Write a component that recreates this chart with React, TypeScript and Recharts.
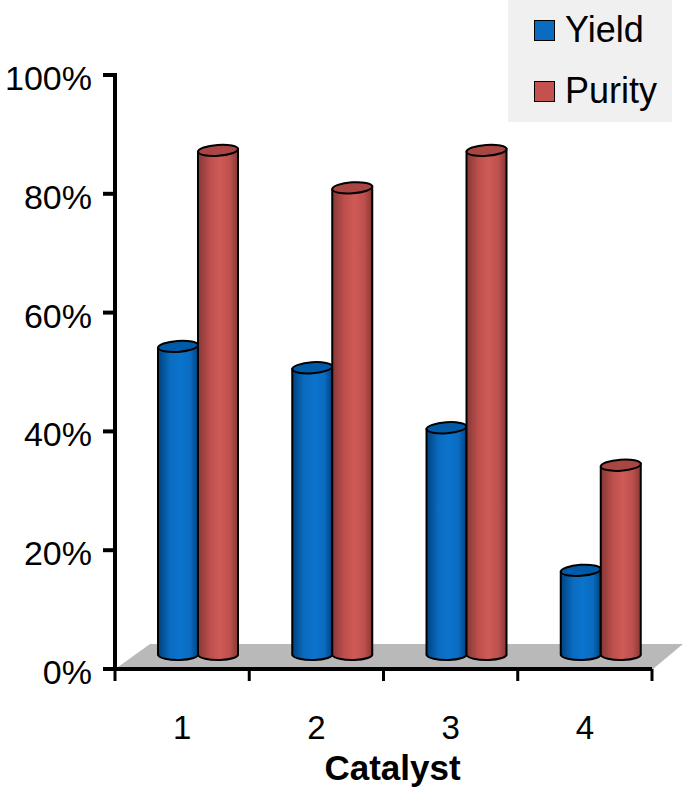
import { BarChart, Bar, XAxis, YAxis, Legend, usePlotArea } from "recharts";

const categories = ["1", "2", "3", "4"];
const yieldValues = [51.7, 48.1, 38, 14];
const purityValues = [84.7, 78.4, 84.7, 31.7];
const yTicks = [0, 20, 40, 60, 80, 100];

const seriesNames = ["Yield", "Purity"];
const swatches: Record<string, string> = { Yield: "#0a6cc0", Purity: "#c5514f" };
const lids: Record<string, string> = { Yield: "#005aa6", Purity: "#a94644" };

const data = categories.map((c, i) => ({
  name: c,
  Yield: yieldValues[i],
  Purity: purityValues[i],
}));

const FONT = "'Liberation Sans', Arial, sans-serif";
const BAND = 134.25;
const SHIFT_X = 16; // fake 3D: columns stand back on the floor
const SHIFT_Y = 14;

function Floor() {
  const plot = usePlotArea();
  if (!plot) return null;
  const left = plot.x;
  const right = plot.x + plot.width;
  const bottom = plot.y + plot.height;
  const d = `M${left + 3} ${bottom - 2} L${left + 35} ${bottom - 25} L${right + 31} ${bottom - 25} L${right + 1} ${bottom} L${left + 3} ${bottom} Z`;
  return <path d={d} fill="#b9b9b9" />;
}

function Cylinder(props: any) {
  const { x, y, width, height, dataKey } = props;
  const left = x + SHIFT_X;
  const right = left + width;
  const top = y - SHIFT_Y;
  const base = y + height - SHIFT_Y;
  const rx = width / 2;
  const cx = left + rx;
  const ry = 5.5;
  const body = `M${left} ${top} L${left} ${base} A${rx} ${ry} 0 0 0 ${right} ${base - 1} L${right} ${top - 3} Z`;
  return (
    <g>
      <path d={body} fill={`url(#grad${dataKey})`} stroke="#000" strokeWidth={2} />
      <ellipse
        cx={cx}
        cy={top - 1.5}
        rx={rx}
        ry={ry}
        fill={lids[dataKey]}
        stroke="#000"
        strokeWidth={2}
        transform={`rotate(-4 ${cx} ${top - 1.5})`}
      />
    </g>
  );
}

function CategoryTick(props: any) {
  const { x, y, payload, index } = props;
  const half = BAND / 2;
  return (
    <g>
      <line x1={x - half} x2={x - half} y1={y - 8} y2={y + 4} stroke="#000" strokeWidth={3} />
      {index === categories.length - 1 && (
        <line x1={x + half} x2={x + half} y1={y - 8} y2={y + 4} stroke="#000" strokeWidth={3} />
      )}
      <text x={x} y={y + 62} textAnchor="middle" fontSize={33} fontFamily={FONT} fill="#000">
        {payload.value}
      </text>
    </g>
  );
}

function ValueTick(props: any) {
  const { x, y, payload } = props;
  return (
    <g>
      <line x1={103} x2={117} y1={y} y2={y} stroke="#000" strokeWidth={4} />
      <text x={x - 6} y={y + 15} textAnchor="end" fontSize={34} fontFamily={FONT} fill="#000">
        {payload.value}%
      </text>
    </g>
  );
}

function LegendBox() {
  return (
    <div style={{ width: 164, height: 122, background: "#f0f0f0", position: "relative", fontFamily: FONT }}>
      {seriesNames.map((name, i) => (
        <div key={name}>
          <div
            style={{
              position: "absolute",
              left: 26,
              top: 20 + i * 61,
              width: 19,
              height: 19,
              background: swatches[name],
              border: "1.5px solid #000",
            }}
          />
          <div
            style={{
              position: "absolute",
              left: 57,
              top: 11 + i * 61,
              fontSize: 36,
              lineHeight: "38px",
              color: "#000",
            }}
          >
            {name}
          </div>
        </div>
      ))}
    </div>
  );
}

export default function App() {
  return (
    <div style={{ position: "absolute", left: 0, top: 0, width: 685, height: 789 }}>
      <BarChart
        width={685}
        height={789}
        data={data}
        margin={{ top: 75, right: 33, bottom: 0, left: 0 }}
        barCategoryGap={27}
        barGap={0}
        barSize={40}
      >
        <defs>
          <linearGradient id="gradYield" x1="0" y1="0" x2="1" y2="0">
            <stop offset="0%" stopColor="#00417f" />
            <stop offset="30%" stopColor="#0a6cc0" />
            <stop offset="55%" stopColor="#0a74cc" />
            <stop offset="80%" stopColor="#0a6cc0" />
            <stop offset="100%" stopColor="#00417f" />
          </linearGradient>
          <linearGradient id="gradPurity" x1="0" y1="0" x2="1" y2="0">
            <stop offset="0%" stopColor="#853836" />
            <stop offset="30%" stopColor="#bd4f4c" />
            <stop offset="55%" stopColor="#cf5a57" />
            <stop offset="80%" stopColor="#bd4f4c" />
            <stop offset="100%" stopColor="#853836" />
          </linearGradient>
        </defs>
        <Floor />
        <XAxis
          dataKey="name"
          height={120}
          axisLine={{ stroke: "#000", strokeWidth: 4 }}
          tickLine={false}
          interval={0}
          tick={<CategoryTick />}
          label={{
            value: "Catalyst",
            position: "insideBottom",
            offset: 9,
            dx: 9,
            fontSize: 35,
            fontWeight: 700,
            fontFamily: FONT,
            fill: "#000",
          }}
        />
        <YAxis
          width={115}
          domain={[0, 100]}
          ticks={yTicks}
          interval={0}
          axisLine={{ stroke: "#000", strokeWidth: 4 }}
          tickLine={false}
          tickMargin={11}
          tick={<ValueTick />}
        />
        <Legend
          layout="vertical"
          align="center"
          verticalAlign="middle"
          content={<LegendBox />}
          wrapperStyle={{ position: "absolute", left: 508, top: 0, width: 164, height: 122 }}
        />
        <Bar dataKey="Yield" isAnimationActive={false} shape={<Cylinder />} />
        <Bar dataKey="Purity" isAnimationActive={false} shape={<Cylinder />} />
      </BarChart>
    </div>
  );
}
